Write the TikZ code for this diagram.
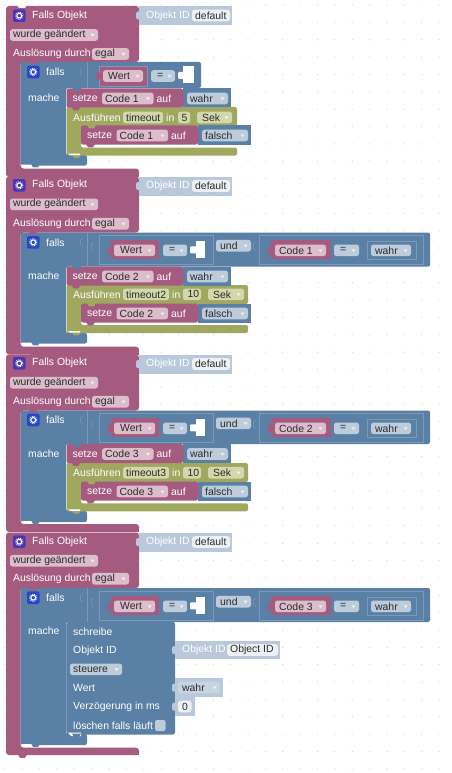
\documentclass[tikz,border=0pt]{standalone}
\usepackage{fontspec}
\setmainfont{Liberation Sans}
\definecolor{pink}{HTML}{A55B80}
\definecolor{pinkf}{HTML}{DBBDCC}
\definecolor{blue}{HTML}{5B80A5}
\definecolor{bluel}{HTML}{7C99B8}
\definecolor{bluef}{HTML}{BDCCDB}
\definecolor{olive}{HTML}{A0A85F}
\definecolor{olivef}{HTML}{D3D7AC}
\definecolor{oid}{HTML}{B9C9DB}
\definecolor{oidf}{HTML}{EDF1F5}
\definecolor{wahrg}{HTML}{C8D4E1}
\definecolor{ink}{HTML}{2A2A2A}
\definecolor{purp}{HTML}{4A35B5}
\definecolor{ifblue}{HTML}{2A45C8}
\newcounter{nn}
\newcommand{\thennn}{\arabic{nn}}
\tikzset{
  x=1pt,y=-1pt,
  wlab/.style={inner sep=0pt,anchor=west,text=white,font=\fontsize{10.4}{12}\selectfont},
  dlab/.style={inner sep=0pt,anchor=west,text=ink,font=\fontsize{10.4}{12}\selectfont},
  outl/.style={draw=bluel,line width=0.5pt},
  tri/.style={fill=white,fill opacity=0.75},
}
% white label
\newcommand{\wl}[3]{\stepcounter{nn}\node[wlab] (n\thennn) at (#1,#2) {#3};}
% field: x1 x2 yc colour text arrow(1/0)
\newcommand{\fd}[6]{\stepcounter{nn}
  \fill[#4,rounded corners=2.5pt] (#1,#3-5.8) rectangle (#2,#3+5.8);
  \node[dlab] (n\thennn) at (#1+3,#3) {#5};
  \ifnum#6=1 \fill[tri] (#2-7.5,#3-1) -- (#2-3.5,#3-1) -- (#2-5.5,#3+1.6) -- cycle;\fi}
% left tab
\newcommand{\tb}[3]{\fill[#3,rounded corners=1.5pt] (#1-3,#2-4) rectangle (#1+1,#2+4);}
% empty input socket mark
\newcommand{\sock}[2]{\draw[bluel,line width=0.5pt] (#1,#2-4) -- (#1-2.5,#2-2.5) -- (#1-2.5,#2+2.5) -- (#1,#2+4);}
% nub downward (also used as top notch)
\newcommand{\nub}[3]{\fill[#3] (#1,#2-0.5) -- (#1+2,#2+2.8) -- (#1+7,#2+2.8) -- (#1+9,#2-0.5) -- cycle;}
% icon
\newcommand{\icon}[3]{\fill[#3,rounded corners=2pt] (#1,#2-6.3) rectangle (#1+12.5,#2+6.3);
  \draw[white,line width=1.1pt] (#1+6.25,#2) circle (2.4pt);
  \draw[white,line width=0.7pt,dash pattern=on 1pt off 1pt] (#1+6.25,#2) circle (3.7pt);}
% object-id block
\newcommand{\oidblk}[6]{% x1 x2 ytop ybot fieldx text
  \pgfmathsetmacro\ymid{(#3+#4)/2}
  \fill[oid] (#1,#3) rectangle (#2,#4);
  \fill[oid,rounded corners=1.5pt] (#1-3,\ymid-4) rectangle (#1+1,\ymid+4);
  \wl{#1+7}{\ymid}{Objekt ID}
  \fd{#5}{#2-2}{\ymid}{oidf}{#6}{0}}
% trigger shell
\newcommand{\trig}[7]{% 1 top,2 fallsY,3 wurdeY,4 auslY,5 ifTop,6 barTop,7 barBot
  \fill[pink,rounded corners=3pt] (6,#1) -- (139,#1) -- (139,#5) -- (20.5,#5) -- (20.5,#6) -- (139,#6) -- (139,#7) -- (6,#7) -- cycle;
  \fill[pink] (30,#7-4) rectangle (139,#7);
  \icon{13}{#2}{purp}
  \wl{32}{#2}{Falls Objekt}
  \fd{10}{98}{#3}{pinkf}{wurde geändert}{1}
  \wl{13}{#4}{Auslösung durch}
  \fd{92}{129}{#4}{pinkf}{egal}{1}
  \oidblk{139}{232}{#1}{#1+19}{192}{default}}
% falls shell
\newcommand{\fallsblk}[7]{% 1 ifTop,2 inBot,3 inRight,4 barTop,5 barBot,6 fallsY,7 macheY
  \fill[blue,rounded corners=2pt] (20.5,#1) -- (#3,#1) -- (#3,#2) -- (66,#2) -- (66,#4) -- (87,#4) -- (87,#5) -- (20.5,#5) -- cycle;
  \nub{28.5}{#1-0.5}{pink}
  \draw[bluel,line width=0.5pt] (87,#1) -- (87,#2);
  \sock{83}{#6}
  \icon{27}{#6}{ifblue}
  \wl{46}{#6}{falls}
  \wl{28}{#7}{mache}
  \fill[white] (21.5,#5-1) -- (36,#5-1) -- (36,#5+1.7) -- (23,#5+1.7) -- (21.5,#5) -- cycle;
  \nub{31}{#5-1}{blue}
  }
% setze block
\newcommand{\setblk}[7]{% x yc code val pinkRight valRight notchColour
  \fill[pink,rounded corners=2pt] (#1,#2-10) -- (#5,#2-10) -- (#5,#2+9) -- (#1,#2+9) -- cycle;
  \nub{#1+6}{#2-10}{#7}
  \nub{#1+5}{#2+9}{pink}
  \fill[blue] (#5,#2-10) rectangle (#6,#2+9);
  \tb{#5}{#2}{pink}
  \wl{#1+6}{#2}{setze}
  \fd{#1+35.5}{#1+87}{#2}{pinkf}{#3}{1}
  \wl{#1+90}{#2}{auf}
  \fd{#5+4}{#6-3}{#2}{bluef}{#4}{1}}
% olive wrapper
\newcommand{\oliveblk}[3]{% top barTop right
  \fill[olive,rounded corners=2pt] (66.5,#1) -- (#3,#1) -- (#3,#1+19) -- (81,#1+19) -- (81,#2) -- (#3,#2) -- (#3,#2+8) -- (66.5,#2+8) -- cycle;
  \nub{72}{#2+7.5}{olive}
  \fill[white] (68,#2+6) -- (80,#2+6) -- (80,#2+7.5) -- (70,#2+7.5) -- cycle;}
% two-part condition
\newcommand{\bigcond}[3]{% yc undy code
  \sock{94}{#1-4}
  \sock{256}{#1-4}
  \draw[outl] (99,#1-15) rectangle (213,#1+13.5);
  \draw[outl] (259,#1-15) rectangle (423,#1+13.5);
  \fill[pink] (110.7,#1-10) rectangle (159.3,#1+9);
  \tb{110.7}{#1}{pink}
  \fd{114}{155}{#1}{pinkf}{\hspace{3pt}Wert}{1}
  \fd{163}{187}{#1}{bluef}{\hspace{3pt}=}{1}
  \fill[white] (196,#1-9) rectangle (205,#1+7.5);
  \fill[white,rounded corners=1pt] (190,#1-4) rectangle (197,#1+3);
  \fd{216}{251}{#2}{bluef}{\hspace{1pt}und}{1}
  \fill[pink] (271,#1-10) rectangle (331,#1+9);
  \tb{271}{#1}{pink}
  \fd{275}{326}{#1}{pinkf}{\hspace{1pt}#3}{1}
  \fd{334}{359}{#1}{bluef}{\hspace{3pt}=}{1}
  \draw[outl] (367,#1-9.5) rectangle (416,#1+9);
  \fd{371}{411}{#1}{bluef}{\hspace{1pt}wahr}{1}}
\begin{document}
\begin{tikzpicture}
\useasboundingbox (0,0) rectangle (451,773);
\fill[white] (0,0) rectangle (451,773);
\foreach \i in {0,...,25} \foreach \j in {0,...,44}
  \fill[black!18] ({5+17.36*\i},{5+17.36*\j}) circle (0.6pt);

% ---------- group 1 ----------
\trig{6}{15.7}{35}{54}{62}{168.5}{177}
\fill[white] (17,5) -- (27,5) -- (25,8) -- (19,8) -- cycle;
\fallsblk{62}{88}{201}{155}{165.5}{72}{98}
\fill[pink,draw=bluel,line width=0.5pt] (99,66) rectangle (147,86);
\tb{99}{76}{pink}
\fd{103}{143}{76}{pinkf}{\hspace{2pt}Wert}{1}
\fd{151}{175}{76}{bluef}{\hspace{3pt}=}{1}
\fill[white] (183,66.5) rectangle (194,83);
\fill[white,rounded corners=1pt] (178,72) rectangle (184,79);
\oliveblk{107}{147.5}{237}
\setblk{66.5}{98.5}{Code 1}{wahr}{183}{231}{blue}
\wl{73}{117.5}{Ausführen}
\fd{123}{163}{117.5}{olivef}{timeout}{0}
\wl{166}{117.5}{in}
\fd{178}{190}{117.5}{olivef}{\hspace{0.5pt}5}{0}
\fd{197}{232}{117.5}{olivef}{\hspace{2pt}Sek}{1}
\setblk{81}{135.5}{Code 1}{falsch}{198}{251}{olive}

% ---------- group 2 ----------
\trig{176.5}{185.3}{204.3}{223.7}{232.5}{346.7}{354.5}
\fallsblk{232.5}{266.7}{430}{333}{343.5}{242.3}{275.7}
\bigcond{250.3}{245.7}{Code 1}
\oliveblk{285}{325}{248}
\setblk{66.5}{276.5}{Code 2}{wahr}{183}{231}{blue}
\wl{73}{294.3}{Ausführen}
\fd{123}{169}{294.3}{olivef}{timeout2}{0}
\wl{172}{294.3}{in}
\fd{183}{201}{294.3}{olivef}{\hspace{1.5pt}10}{0}
\fd{208}{244}{294.3}{olivef}{\hspace{2pt}Sek}{1}
\setblk{81}{313.5}{Code 2}{falsch}{198}{251}{olive}

% ---------- group 3 ----------
\trig{354.5}{363.3}{382.7}{401.7}{410.5}{524}{532}
\fallsblk{410.5}{444}{430}{511}{522}{420}{453.7}
\bigcond{428.3}{423.3}{Code 2}
\oliveblk{463}{503.3}{248}
\setblk{66.5}{454}{Code 3}{wahr}{183}{231}{blue}
\wl{73}{472.7}{Ausführen}
\fd{123}{169}{472.7}{olivef}{timeout3}{0}
\wl{172}{472.7}{in}
\fd{183}{201}{472.7}{olivef}{\hspace{1.5pt}10}{0}
\fd{208}{244}{472.7}{olivef}{\hspace{2pt}Sek}{1}
\setblk{81}{491.5}{Code 3}{falsch}{198}{251}{olive}

% ---------- group 4 ----------
\trig{532.5}{541.7}{560.7}{578.7}{588}{747.7}{755}
\nub{18}{755}{pink}
\fallsblk{588}{622}{430}{734}{745}{597.7}{630.7}
\bigcond{606.3}{601.7}{Code 3}
% schreibe block
\fill[blue,rounded corners=2pt] (66.5,622) -- (175,622) -- (175,734.5) -- (66.5,734.5) -- cycle;
\draw[bluel,line width=0.5pt] (66.5,624) -- (66.5,732);
\fill[white] (68,732.5) -- (81,732.5) -- (81,736) -- (71,736) -- cycle;
\nub{72}{734.2}{blue}
\fill[blue] (66.5,732) rectangle (68,734);
\wl{73}{631.7}{schreibe}
\wl{73}{650.7}{Objekt ID}
\oidblk{175}{280}{641}{659}{227}{Object ID}
\fd{70}{122}{669.3}{bluef}{steuere}{1}
\wl{73}{687.7}{Wert}
\fill[oid] (175,678.3) rectangle (222.5,696.7);
\fill[oid,rounded corners=1.5pt] (172,683.5) rectangle (176,691.5);
\fd{178}{220}{687.5}{wahrg}{\hspace{1pt}wahr}{1}
\wl{73}{706.7}{Verzögerung in ms}
\fill[oid] (175,697) rectangle (195,716);
\fill[oid,rounded corners=1.5pt] (172,702.5) rectangle (176,710.5);
\fd{178}{191.5}{706.5}{oidf}{\hspace{1pt}0}{0}
\wl{73}{725.7}{löschen falls läuft}
\fill[bluef,rounded corners=2pt] (155,720) rectangle (165.5,731);
\end{tikzpicture}
\end{document}
